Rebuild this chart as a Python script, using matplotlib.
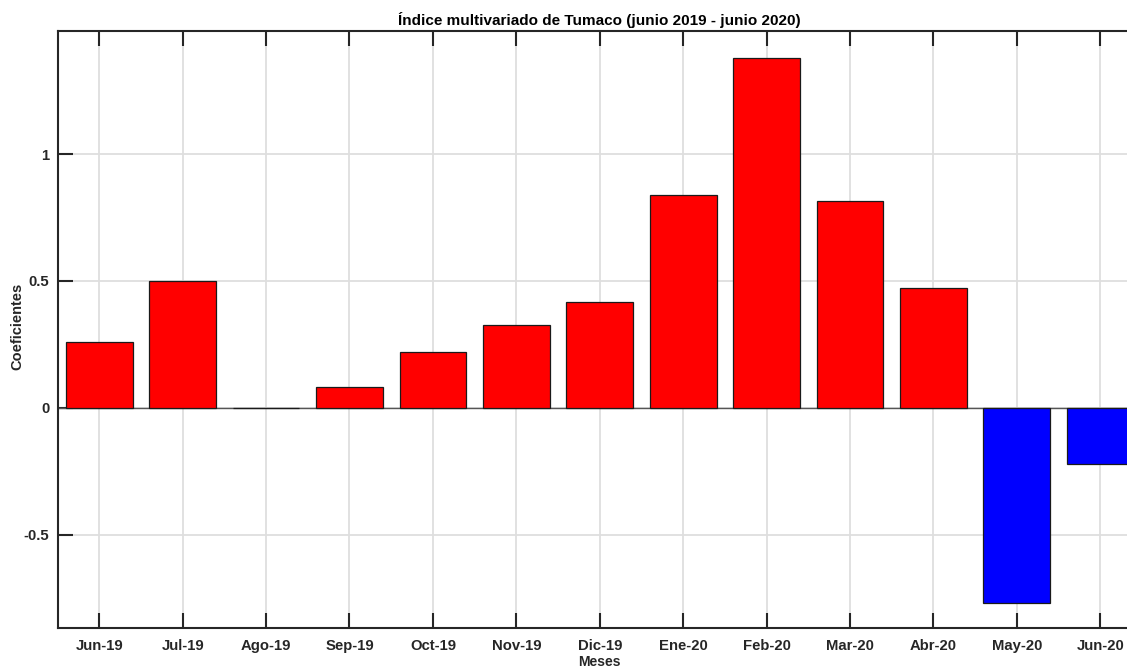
import matplotlib
matplotlib.use("Agg")
import matplotlib.pyplot as plt
import numpy as np

months = ["Jun-19", "Jul-19", "Ago-19", "Sep-19", "Oct-19", "Nov-19", "Dic-19",
          "Ene-20", "Feb-20", "Mar-20", "Abr-20", "May-20", "Jun-20"]
values = [0.259, 0.499, 0.0, 0.080, 0.220, 0.326, 0.415,
          0.838, 1.379, 0.813, 0.472, -0.771, -0.222]
yticks = [-0.5, 0, 0.5, 1]
ytick_labels = ["-0.5", "0", "0.5", "1"]

plt.rcParams['font.family'] = ['Liberation Sans', 'DejaVu Sans']
plt.rcParams['font.weight'] = 'bold'

W, H = 1127, 666
fig = plt.figure(figsize=(W / 100, H / 100), dpi=100)
ax_left, ax_right, ax_top, ax_bottom = 57.5, 1142, 31, 628
ax = fig.add_axes([ax_left / W, (H - ax_bottom) / H,
                   (ax_right - ax_left) / W, (ax_bottom - ax_top) / H])

x = np.arange(len(months))
colors = ["#ff0000" if v >= 0 else "#0000ff" for v in values]
ax.bar(x, values, width=0.8, color=colors, edgecolor="#1a1a1a", linewidth=0.9, zorder=3)
ax.axhline(0, color="#555555", linewidth=1.0, zorder=2)

ax.set_xlim(-0.5, len(months) - 0.5)
ax.set_ylim(-0.868, 1.485)
ax.set_xticks(x)
ax.set_xticklabels(months, fontsize=10.7, fontweight='bold', color="#262626")
ax.set_yticks(yticks)
ax.set_yticklabels(ytick_labels, fontsize=10.7, fontweight='bold', color="#262626")

ax.grid(True, color="#dedede", linewidth=1.3, zorder=0)
ax.set_axisbelow(True)
ax.tick_params(axis='both', direction='in', length=11, width=1.5, color="#262626",
               top=True, right=True)
ax.tick_params(axis='x', pad=8)
ax.tick_params(axis='y', pad=6)
for s in ax.spines.values():
    s.set_color("#262626")
    s.set_linewidth(1.5)

ax.set_title("Índice multivariado de Tumaco (junio 2019 - junio 2020)",
             fontsize=11, fontweight='bold', color="black", pad=4)
ax.set_ylabel("Coeficientes", fontsize=10.5, fontweight='bold', color="#262626")
ax.yaxis.set_label_coords((24 - ax_left) / (ax_right - ax_left),
                          (ax_bottom - 326) / (ax_bottom - ax_top))
ax.set_xlabel("Meses", fontsize=10, fontweight='bold', color="#262626", labelpad=1)

fig.savefig("out.png", dpi=100)
